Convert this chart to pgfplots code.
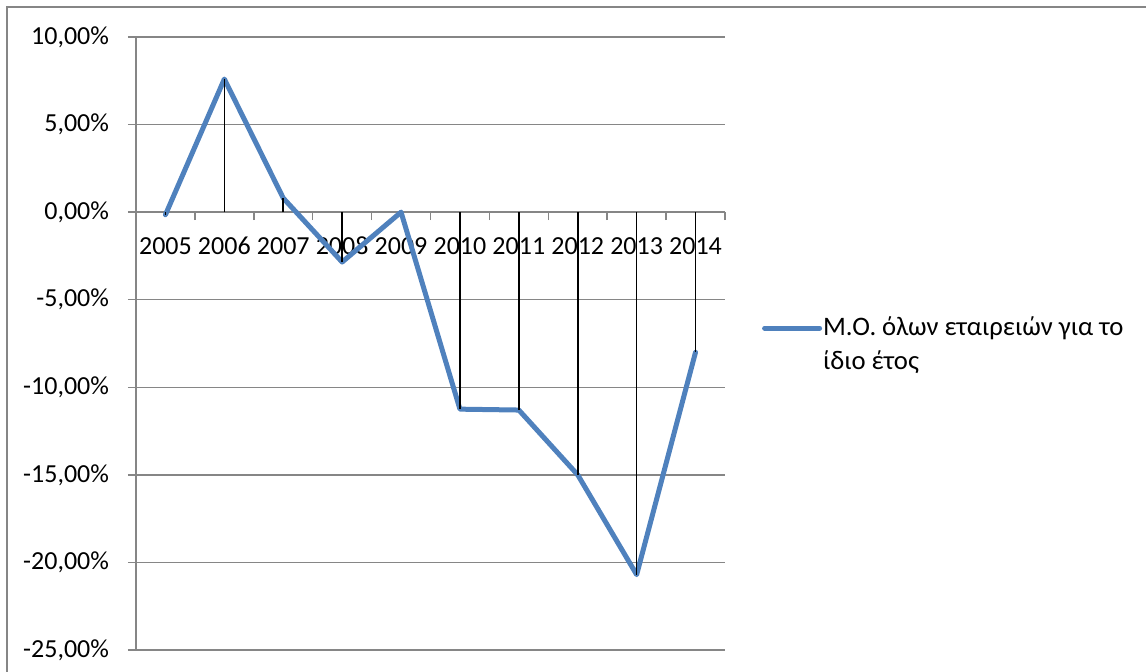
\documentclass[border=0pt]{standalone}
\usepackage{fontspec}
\setmainfont{Carlito}
\usepackage{pgfplots}
\pgfplotsset{compat=1.18}
\definecolor{xlblue}{RGB}{79,129,189}
\definecolor{xlgrid}{RGB}{134,134,134}

\pgfplotstableread{
idx  val
0   -0.15
1    7.60
2    0.80
3   -2.85
4    0.00
5  -11.25
6  -11.30
7  -15.00
8  -20.70
9   -8.00
}\avgtable

\begin{document}
\begin{tikzpicture}[x=1pt,y=1pt,font=\fontsize{13pt}{16pt}\selectfont]
\useasboundingbox (0,0) rectangle (573,336);
% chart frame
\draw[xlgrid, line width=0.8pt] (3.5,-2) -- (3.5,332.5) -- (575,332.5);
\begin{axis}[
  at={(68pt,11pt)}, anchor=south west,
  width=294.5pt, height=306.5pt, scale only axis,
  xmin=-0.5, xmax=9.5, ymin=-25, ymax=10,
  axis y line*=left, axis x line*=middle,
  hide obscured x ticks=false,
  axis line style={xlgrid, line width=0.75pt},
  every tick/.style={xlgrid, line width=0.75pt},
  tick align=outside, major tick length=4pt,
  xtick={-0.5,0.5,...,9.5},
  xticklabels={2005,2006,2007,2008,2009,2010,2011,2012,2013,2014,},
  xticklabel style={xshift=14.725pt, yshift=-5pt, text=black},
  ytick={-25,-20,...,10},
  yticklabels={{-25,00\%},{-20,00\%},{-15,00\%},{-10,00\%},{-5,00\%},{0,00\%},{5,00\%},{10,00\%}},
  yticklabel style={xshift=-6pt, text=black},
  ymajorgrids, grid style={xlgrid, line width=0.75pt},
  clip=false,
  legend style={at={(rel axis cs:1.063,0.4975)}, anchor=west, draw=none, fill=none,
    inner sep=0pt, outer sep=0pt,
    nodes={inner sep=0.5pt},
    cells={align=left},
    font=\fontsize{13.35pt}{17pt}\selectfont},
  legend image code/.code={\draw[#1] (0pt,8.5pt) -- (27.5pt,8.5pt);},
]
\addplot[xlblue, line width=2.5pt, line join=round, line cap=round] table[x=idx,y=val] {\avgtable};
\addlegendentry{Μ.Ο. όλων εταιρειών για το\\ίδιο έτος}
\addplot[black, line width=0.8pt, ycomb, forget plot] table[x=idx,y=val] {\avgtable};
\end{axis}
\end{tikzpicture}
\end{document}
